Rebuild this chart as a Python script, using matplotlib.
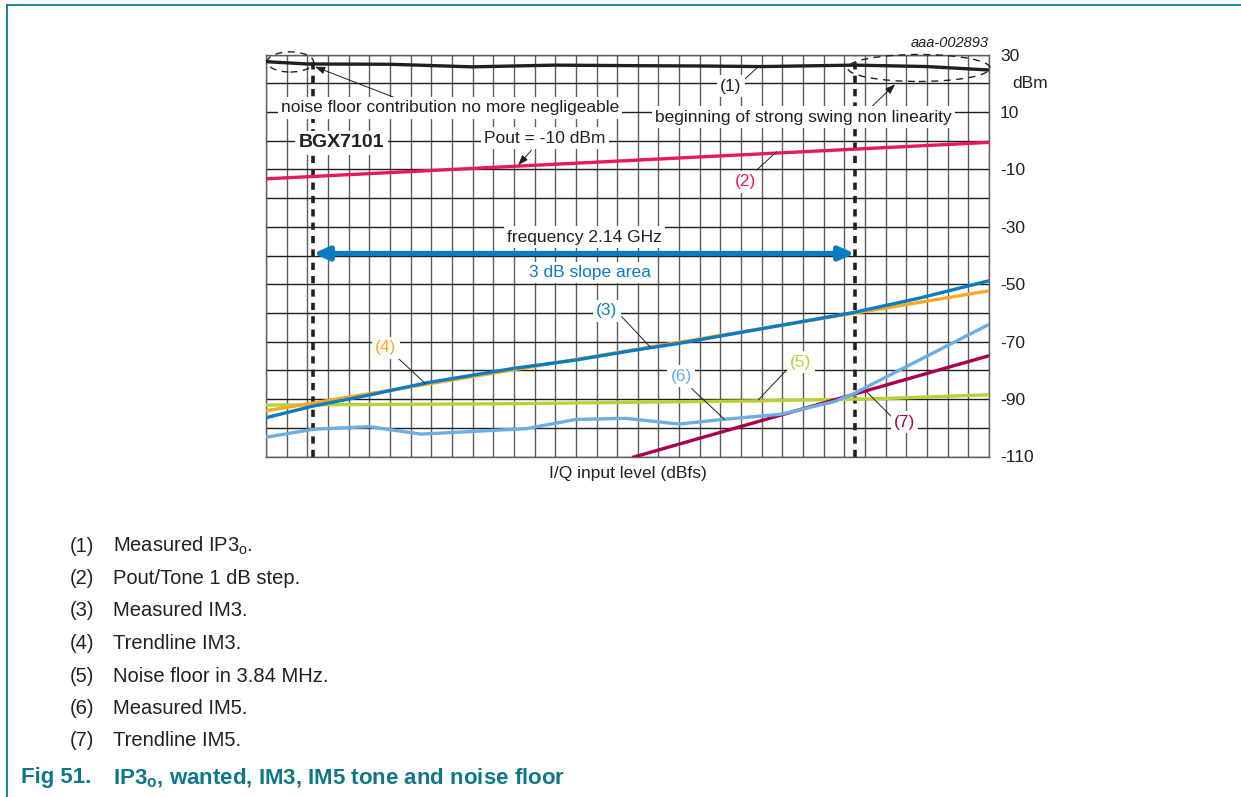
import matplotlib
matplotlib.use("Agg")
import matplotlib.pyplot as plt
from matplotlib.patches import Ellipse
from matplotlib.lines import Line2D

plt.rcParams['font.family'] = ['Liberation Sans', 'DejaVu Sans']
plt.rcParams['mathtext.fontset'] = 'custom'
plt.rcParams['mathtext.rm'] = 'Liberation Sans'
plt.rcParams['mathtext.it'] = 'Liberation Sans:italic'
plt.rcParams['mathtext.bf'] = 'Liberation Sans:bold'

# ---------------- data (x in 1 dB input steps, y in dBm) ----------------
ip3_x = [0, 2, 6, 10, 14, 18, 21, 24, 28.5, 32, 35]
ip3_y = [27.5, 26.7, 26.6, 25.7, 26.3, 26.1, 26.0, 25.8, 26.3, 25.8, 24.6]

pout_x = [0, 35]
pout_y = [-13.3, -0.6]

im3_x = [0, 2.3, 5, 7.8, 12, 15, 18, 20, 24, 28.4, 31.6, 35]
im3_y = [-96.5, -92.4, -88.6, -84.3, -79.3, -76.4, -72.8, -70.6, -65.5, -59.9, -54.9, -48.8]

im3_trend_x = [0, 35]
im3_trend_y = [-94.1, -52.3]

noise_x = [0, 12, 24, 30, 35]
noise_y = [-92.1, -91.6, -90.6, -89.8, -88.5]

im5_x = [0, 2.3, 5, 7.5, 12.6, 15, 17.4, 20, 22.1, 24.9, 27.5, 28.4, 31, 35]
im5_y = [-103.3, -100.5, -99.6, -102.2, -100.3, -97.1, -96.7, -98.7, -97.1, -95.3, -90.9, -88.3, -78.7, -64.0]

im5_trend_x = [17.8, 35]
im5_trend_y = [-110.2, -74.9]

slope_limits = [2.29, 28.5]          # dashed boundaries of 3 dB slope area
y_ticks = [30, 10, -10, -30, -50, -70, -90, -110]

legend_items = [
    ("(1)", "Measured IP3$_\\mathrm{o}$."),
    ("(2)", "Pout/Tone 1 dB step."),
    ("(3)", "Measured IM3."),
    ("(4)", "Trendline IM3."),
    ("(5)", "Noise floor in 3.84 MHz."),
    ("(6)", "Measured IM5."),
    ("(7)", "Trendline IM5."),
]

# ---------------- colours ----------------
C_BLACK = '#231f20'
C_RED = '#e8185c'
C_BLUE = '#0a7cc1'
C_ORANGE = '#f9a825'
C_GREEN = '#b8d232'
C_LBLUE = '#6caee2'
C_DRED = '#a8004c'
C_TEAL = '#0e778a'

FS = 12.5

W, H = 1241, 797
fig = plt.figure(figsize=(W / 100, H / 100), dpi=100)

# page frame
fig.add_artist(Line2D([7 / W, 1], [1 - 4.5 / H, 1 - 4.5 / H], color=C_TEAL, lw=1.3))
fig.add_artist(Line2D([7 / W, 7 / W], [0, 1 - 4.5 / H], color=C_TEAL, lw=1.3))

L, R, T, B = 266, 989, 54.5, 456.5
ax = fig.add_axes([L / W, 1 - B / H, (R - L) / W, (B - T) / H])
ax.set_xlim(0, 35)
ax.set_ylim(-110, 30)

# grid
for xv in range(0, 36):
    ax.axvline(xv, color='#5e5e5e', lw=1.0, zorder=1)
for yv in range(-110, 31, 10):
    ax.axhline(yv, color='#1e1e1e', lw=1.0, zorder=1)
for s in ax.spines.values():
    s.set_color('#5e5e5e')
    s.set_linewidth(1.0)

ax.set_xticks([])
ax.yaxis.tick_right()
ax.set_yticks(y_ticks)
ax.set_yticklabels([str(v) for v in y_ticks])
ax.tick_params(axis='y', length=0, pad=8, labelsize=FS, labelcolor='#231f20')
for lab in ax.get_yticklabels():
    lab.set_horizontalalignment('left')
ax.text(1.032, (20 + 110) / 140, 'dBm', transform=ax.transAxes, fontsize=FS,
        ha='left', va='center', color='#231f20')
ax.set_xlabel('I/Q input level (dBfs)', fontsize=FS, color='#231f20', labelpad=7)
ax.text(1.0, 1.012, 'aaa-002893', transform=ax.transAxes, fontsize=10.5,
        style='italic', ha='right', va='bottom', color='#231f20')

# dashed boundaries
for xv in slope_limits:
    ax.axvline(xv, color=C_BLACK, lw=2.6, ls=(0, (2.0, 1.7)), zorder=2)

# curves
lw = 2.4
ax.plot(ip3_x, ip3_y, color=C_BLACK, lw=lw, zorder=4)
ax.plot(pout_x, pout_y, color=C_RED, lw=lw, zorder=4)
ax.plot(noise_x, noise_y, color=C_GREEN, lw=lw, zorder=4)
ax.plot(im3_trend_x, im3_trend_y, color=C_ORANGE, lw=lw, zorder=4)
ax.plot(im3_x, im3_y, color=C_BLUE, lw=lw, zorder=5)
ax.plot(im5_x, im5_y, color=C_LBLUE, lw=lw, zorder=5)
ax.plot(im5_trend_x, im5_trend_y, color=C_DRED, lw=lw, zorder=4)

# 3 dB slope double arrow
ax.annotate('', xy=(slope_limits[0], -39.3), xytext=(slope_limits[1], -39.3),
            arrowprops=dict(arrowstyle='<|-|>,head_length=0.9,head_width=0.4',
                            lw=3.8, color=C_BLUE, shrinkA=0, shrinkB=0), zorder=6)

# ellipses
ax.add_patch(Ellipse((1.18, 27.4), 2.25, 7.0, fill=False, ec=C_BLACK, lw=1.0,
                     ls=(0, (5, 4)), zorder=5, clip_on=False))
ax.add_patch(Ellipse((31.6, 25.3), 6.9, 9.4, fill=False, ec=C_BLACK, lw=1.0,
                     ls=(0, (5, 4)), zorder=5, clip_on=False))

box = dict(boxstyle='square,pad=0.18', fc='white', ec='none')


def label(x, y, s, color=C_BLACK, size=FS, **kw):
    ax.text(x, y, s, color=color, fontsize=size, ha='center', va='center',
            bbox=box, zorder=7, **kw)


def leader(x0, y0, x1, y1, arrow=False):
    ax.annotate('', xy=(x1, y1), xytext=(x0, y0),
                arrowprops=dict(arrowstyle='-|>,head_length=0.6,head_width=0.22' if arrow else '-',
                                lw=0.7, color=C_BLACK, shrinkA=0, shrinkB=0),
                zorder=6)


label(8.9, 11.4, 'noise floor contribution no more negligeable')
label(26.0, 8.2, 'beginning of strong swing non linearity')
label(22.5, 19.0, '(1)')
label(3.65, -0.8, 'BGX7101', size=14, fontweight='bold')
label(13.5, 0.9, 'Pout = -10 dBm')
label(23.2, -14.4, '(2)', color=C_RED)
label(15.4, -33.6, 'frequency 2.14 GHz')
label(15.7, -45.8, '3 dB slope area', color=C_BLUE)
label(16.5, -59.3, '(3)', color=C_BLUE)
label(5.8, -72.2, '(4)', color=C_ORANGE)
label(20.1, -82.0, '(6)', color=C_LBLUE)
label(25.9, -77.1, '(5)', color=C_GREEN)
label(30.9, -98.0, '(7)', color=C_DRED)

leader(6.33, 14.7, 2.37, 25.75, arrow=True)
leader(29.15, 10.67, 30.45, 19.6, arrow=True)
leader(23.18, 21.47, 23.83, 25.75)
leader(12.86, -3.26, 12.21, -8.49, arrow=True)
leader(23.75, -10.23, 24.72, -3.86)
leader(17.22, -61.3, 18.59, -71.8)
leader(6.40, -75.8, 7.70, -84.5)
leader(20.6, -86.3, 22.2, -97.1)
leader(25.2, -79.9, 23.83, -90.3)
leader(29.08, -87.5, 30.29, -96.2)

# legend lines below chart
for i, (num, txt) in enumerate(legend_items):
    yy = 1 - (546 + i * 32.5) / H
    fig.text(70 / W, yy, num, fontsize=14.5, ha='left', va='center', color='#231f20')
    fig.text(113 / W, yy, txt, fontsize=14.5, ha='left', va='center', color='#231f20')

fig.text(21 / W, 1 - 778 / H, 'Fig 51.', fontsize=16, fontweight='bold',
         ha='left', va='center', color=C_TEAL)
fig.text(113 / W, 1 - 778 / H, 'IP3$_\\mathbf{o}$, wanted, IM3, IM5 tone and noise floor',
         fontsize=16, fontweight='bold', ha='left', va='center', color=C_TEAL)

fig.savefig('out.png', dpi=100)
